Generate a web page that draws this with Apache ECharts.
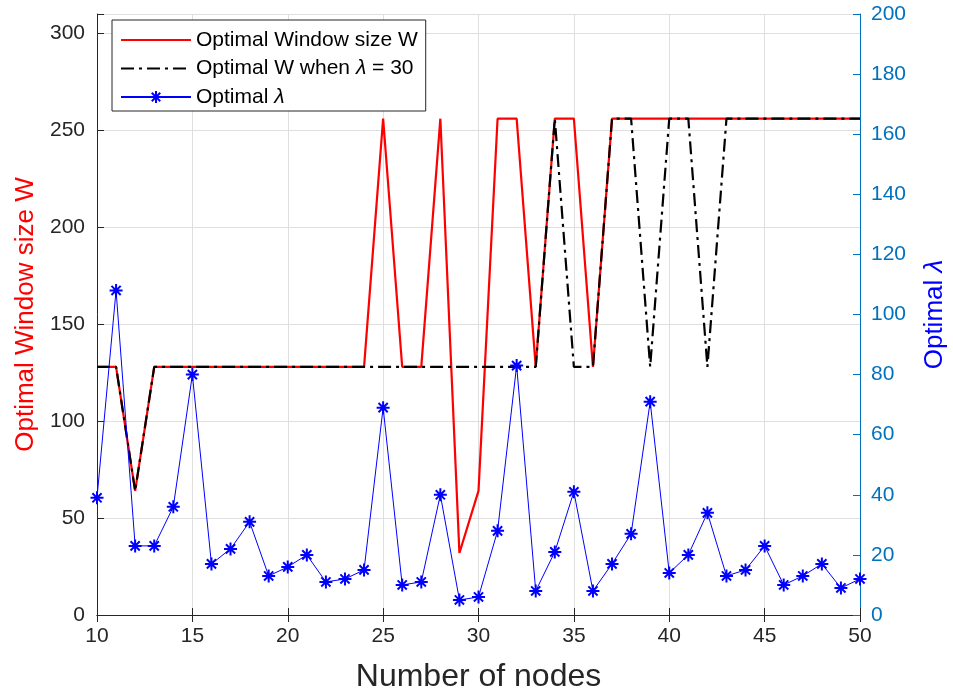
<!DOCTYPE html>
<html>
<head>
<meta charset="utf-8">
<script src="https://cdn.jsdelivr.net/npm/echarts@6/dist/echarts.min.js"></script>
<style>
  html, body { margin: 0; padding: 0; background: #fff; }
  #chart { width: 953px; height: 698px; }
</style>
</head>
<body>
<div id="chart"></div>
<script>
// Number of nodes on the x axis
const nodes = [10, 11, 12, 13, 14, 15, 16, 17, 18, 19, 20, 21, 22, 23, 24, 25, 26, 27, 28, 29,
               30, 31, 32, 33, 34, 35, 36, 37, 38, 39, 40, 41, 42, 43, 44, 45, 46, 47, 48, 49, 50];

// Optimal window size W (left axis)
const windowOpt = [128, 128, 64, 128, 128, 128, 128, 128, 128, 128, 128, 128, 128, 128, 128, 256, 128, 128, 256, 32,
                   64, 256, 256, 128, 256, 256, 128, 256, 256, 256, 256, 256, 256, 256, 256, 256, 256, 256, 256, 256, 256];

// Optimal W with lambda fixed at 30 (left axis)
const windowLambda30 = [128, 128, 64, 128, 128, 128, 128, 128, 128, 128, 128, 128, 128, 128, 128, 128, 128, 128, 128, 128,
                        128, 128, 128, 128, 256, 128, 128, 256, 256, 128, 256, 256, 128, 256, 256, 256, 256, 256, 256, 256, 256];

// Optimal lambda (right axis)
const lambdaOpt = [39, 108, 23, 23, 36, 80, 17, 22, 31, 13, 16, 20, 11, 12, 15, 69, 10, 11, 40, 5,
                   6, 28, 83, 8, 21, 41, 8, 17, 27, 71, 14, 20, 34, 13, 15, 23, 10, 13, 17, 9, 12];

// Tick settings
const xTicks = { min: 10, max: 50, step: 5 };
const leftTicks = { min: 0, max: 310, step: 50, lastLabel: 300 };
const rightTicks = { min: 0, max: 200, step: 20 };

const pair = (xs, ys) => xs.map((x, i) => [x, ys[i]]);

const AXIS_DARK = '#262626';
const RIGHT_BLUE = '#0072bd';
const FONT = 'Liberation Sans, Arial, Helvetica, sans-serif';
const asterisk = 'path://M0,-10L0,10M-10,0L10,0M-7.07,-7.07L7.07,7.07M-7.07,7.07L7.07,-7.07';
const noMarker = { opacity: 0, color: 'rgba(0,0,0,0)', borderWidth: 0 };

const chart = echarts.init(document.getElementById('chart'), null, { renderer: 'canvas' });

chart.setOption({
  animation: false,
  backgroundColor: '#ffffff',
  textStyle: { fontFamily: FONT },
  grid: { left: 97, right: 93, top: 14, bottom: 83, containLabel: false, outerBoundsMode: 'none' },
  legend: {
    orient: 'vertical',
    left: 112,
    top: 20,
    padding: [8, 8, 2, 8],
    itemGap: 4.5,
    itemWidth: 70,
    itemHeight: 15,
    backgroundColor: '#ffffff',
    borderColor: AXIS_DARK,
    borderWidth: 1,
    textStyle: {
      fontFamily: FONT, fontSize: 21, color: '#000', lineHeight: 24,
      rich: { i: { fontFamily: FONT, fontSize: 21, fontStyle: 'italic', color: '#000' } }
    },
    formatter: (name) => name.replace('λ', '{i|λ}'),
    data: [
      { name: 'Optimal Window size W', itemStyle: noMarker },
      { name: 'Optimal W when λ = 30', itemStyle: noMarker },
      { name: 'Optimal λ' }
    ]
  },
  xAxis: [
    {
      type: 'value',
      position: 'bottom',
      min: xTicks.min, max: xTicks.max, interval: xTicks.step,
      name: 'Number of nodes',
      nameLocation: 'middle',
      nameGap: 46,
      nameTextStyle: { fontFamily: FONT, fontSize: 32, color: AXIS_DARK },
      axisLine: { show: true, lineStyle: { color: AXIS_DARK, width: 1 } },
      axisTick: { show: true, inside: true, length: 7, lineStyle: { color: AXIS_DARK } },
      axisLabel: { fontFamily: FONT, fontSize: 21, color: AXIS_DARK, margin: 11 },
      splitLine: { show: true, lineStyle: { color: '#dfdfdf', width: 1 } }
    },
    {
      type: 'value',
      position: 'top',
      min: xTicks.min, max: xTicks.max, interval: xTicks.step,
      axisLine: { show: true, lineStyle: { color: AXIS_DARK, width: 1 } },
      axisTick: { show: true, inside: true, length: 7, lineStyle: { color: AXIS_DARK } },
      axisLabel: { show: false },
      splitLine: { show: false }
    }
  ],
  yAxis: [
    {
      type: 'value',
      position: 'left',
      min: leftTicks.min, max: leftTicks.max, interval: leftTicks.step,
      name: 'Optimal Window size W',
      nameLocation: 'middle',
      nameRotate: 90,
      nameGap: 58,
      nameTextStyle: { fontFamily: FONT, fontSize: 26, color: '#ff0000' },
      axisLine: { show: true, lineStyle: { color: AXIS_DARK, width: 1 } },
      axisTick: { show: true, inside: true, length: 7, lineStyle: { color: AXIS_DARK } },
      axisLabel: {
        fontFamily: FONT, fontSize: 21, color: AXIS_DARK, margin: 12,
        formatter: (v) => (v > leftTicks.lastLabel ? '' : String(v))
      },
      splitLine: { show: true, lineStyle: { color: '#dfdfdf', width: 1 } }
    },
    {
      type: 'value',
      position: 'right',
      min: rightTicks.min, max: rightTicks.max, interval: rightTicks.step,
      name: 'Optimal {i|λ}',
      nameLocation: 'middle',
      nameRotate: 90,
      nameGap: 62,
      nameTextStyle: {
        fontFamily: FONT, fontSize: 26, color: '#0000ff',
        rich: { i: { fontFamily: FONT, fontSize: 26, fontStyle: 'italic', color: '#0000ff' } }
      },
      axisLine: { show: true, lineStyle: { color: RIGHT_BLUE, width: 1 } },
      axisTick: { show: true, inside: true, length: 7, lineStyle: { color: RIGHT_BLUE } },
      axisLabel: { fontFamily: FONT, fontSize: 21, color: RIGHT_BLUE, margin: 11 },
      splitLine: { show: false }
    }
  ],
  series: [
    {
      name: 'Optimal Window size W',
      type: 'line',
      xAxisIndex: 0, yAxisIndex: 0,
      data: pair(nodes, windowOpt),
      showSymbol: false,
      symbol: 'none',
      lineStyle: { color: '#ff0000', width: 2.2 },
      itemStyle: { color: '#ff0000' },
      z: 2
    },
    {
      name: 'Optimal W when λ = 30',
      type: 'line',
      xAxisIndex: 0, yAxisIndex: 0,
      data: pair(nodes, windowLambda30),
      showSymbol: false,
      symbol: 'none',
      lineStyle: { color: '#000000', width: 2.2, type: [13, 5, 3, 5] },
      itemStyle: { color: '#000000' },
      z: 3
    },
    {
      name: 'Optimal λ',
      type: 'line',
      xAxisIndex: 0, yAxisIndex: 1,
      data: pair(nodes, lambdaOpt),
      symbol: asterisk,
      symbolSize: 13,
      showSymbol: true,
      clip: false,
      lineStyle: { color: '#0000ff', width: 1 },
      itemStyle: { color: '#0000ff', borderColor: '#0000ff', borderWidth: 2 },
      z: 4
    }
  ]
});
</script>
</body>
</html>
